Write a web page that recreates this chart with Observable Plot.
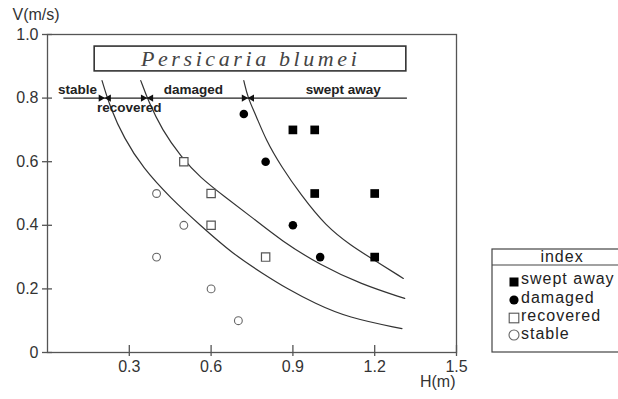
<!DOCTYPE html>
<html><head><meta charset="utf-8">
<script src="https://cdn.jsdelivr.net/npm/d3@7"></script>
<script src="https://cdn.jsdelivr.net/npm/@observablehq/plot@0.6"></script>
<style>
html,body{margin:0;padding:0;background:#fff;}
body{width:618px;height:399px;overflow:hidden;position:relative;font-family:"Liberation Sans",Arial,sans-serif;}
#chart{position:absolute;left:0;top:0;}
#legend{position:absolute;left:0;top:0;pointer-events:none;}
</style></head><body>
<div id="chart"></div>
<svg id="legend" width="618" height="399"></svg>
<script>
// ---- data ----
const sweptH = [0.9, 0.98, 0.98, 1.2, 1.2];
const sweptV = [0.7, 0.7, 0.5, 0.5, 0.3];
const damagedH = [0.72, 0.8, 0.9, 1.0];
const damagedV = [0.75, 0.6, 0.4, 0.3];
const recoveredH = [0.5, 0.6, 0.6, 0.8];
const recoveredV = [0.6, 0.5, 0.4, 0.3];
const stableH = [0.4, 0.5, 0.4, 0.6, 0.7];
const stableV = [0.5, 0.4, 0.3, 0.2, 0.1];

// boundary curves
const curve1H = [0.20, 0.23, 0.28, 0.35, 0.45, 0.56, 0.68, 0.79, 0.88, 0.98, 1.10, 1.30];
const curve1V = [0.855, 0.77, 0.675, 0.58, 0.487, 0.40, 0.31, 0.248, 0.20, 0.155, 0.11, 0.075];
const curve2H = [0.342, 0.37, 0.42, 0.49, 0.56, 0.65, 0.75, 0.86, 1.0, 1.15, 1.31];
const curve2V = [0.855, 0.79, 0.70, 0.615, 0.55, 0.49, 0.425, 0.35, 0.275, 0.215, 0.17];
const curve3H = [0.72, 0.735, 0.765, 0.80, 0.857, 0.93, 1.02, 1.115, 1.19, 1.305];
const curve3V = [0.855, 0.80, 0.745, 0.67, 0.585, 0.495, 0.398, 0.335, 0.295, 0.233];

const xTicks = [0.3, 0.6, 0.9, 1.2, 1.5];
const yTicks = [0, 0.2, 0.4, 0.6, 0.8, 1.0];

const categories = ["swept away", "damaged", "recovered", "stable"];
const legendTitle = "index";
const titleText = "Persicaria blumei";

// annotation band (data units)
const bandLabels = ["stable", "recovered", "damaged", "swept away"];
const bandLabelH = [0.11, 0.30, 0.535, 1.085];
const bandLabelV = [0.828, 0.77, 0.828, 0.828];
const boundaryH = [0.21, 0.365, 0.735];
const arrowV = 0.8;
const arrowSpan = [0.06, 1.32];
const titleBox = {x1: 0.173, x2: 1.316, y1: 0.884, y2: 0.962, xc: 0.745, yc: 0.923};

const pts = (H, V) => H.map((h, i) => ({H: h, V: V[i]}));

const ink = "#333";
const axisInk = "#555";

const chart = Plot.plot({
  width: 618, height: 399,
  marginLeft: 47, marginRight: 162, marginTop: 34, marginBottom: 47,
  x: {domain: [0, 1.5]},
  y: {domain: [0, 1]},
  style: {background: "white", color: ink, fontSize: "16px", fontFamily: "'Liberation Sans', Arial, sans-serif"},
  marks: [
    Plot.frame({stroke: axisInk, strokeWidth: 1.3}),
    Plot.axisX({ticks: xTicks, tickSize: 0, tickPadding: 8, label: null, fontSize: 16, tickFormat: d => String(d)}),
    Plot.axisY({ticks: yTicks, tickSize: 0, tickPadding: 9, label: null, fontSize: 16, tickFormat: d => d === 0 ? "0" : d.toFixed(1)}),
    Plot.ruleX(xTicks, {x: d => d, y1: 0, y2: 0, insetTop: -7, insetBottom: -4, stroke: axisInk, strokeWidth: 1.3}),
    Plot.ruleY(yTicks, {y: d => d, x1: 0, x2: 0, insetLeft: -5, insetRight: -5, stroke: axisInk, strokeWidth: 1.3}),
    Plot.text(["V(m/s)"], {frameAnchor: "top-left", textAnchor: "start", lineAnchor: "top", dx: -35, dy: -26, fontSize: 16, fill: ink}),
    Plot.text(["H(m)"], {frameAnchor: "bottom-right", dx: -1, dy: 34, fontSize: 16, fill: ink}),
    // curves
    Plot.line(pts(curve1H, curve1V), {x: "H", y: "V", curve: "basis", stroke: "#333", strokeWidth: 1.2}),
    Plot.line(pts(curve2H, curve2V), {x: "H", y: "V", curve: "basis", stroke: "#333", strokeWidth: 1.2}),
    Plot.line(pts(curve3H, curve3V), {x: "H", y: "V", curve: "basis", stroke: "#333", strokeWidth: 1.2}),
    // title box
    Plot.rect([titleBox], {x1: "x1", x2: "x2", y1: "y1", y2: "y2", fill: "white", stroke: "#333", strokeWidth: 1.6}),
    Plot.text([titleText], {x: titleBox.xc, y: titleBox.yc, fontFamily: "'Liberation Serif', serif", fontStyle: "italic", fontSize: 22, fill: "#444"}),
    // arrow band
    Plot.ruleY([arrowV], {y: d => d, x1: arrowSpan[0], x2: arrowSpan[1], stroke: "#222", strokeWidth: 1.2}),
    Plot.dot(boundaryH, {x: d => d, y: arrowV, symbol: "triangle", r: 2.7, rotate: 90, dx: -4, fill: "#111", stroke: "none"}),
    Plot.dot(boundaryH, {x: d => d, y: arrowV, symbol: "triangle", r: 2.7, rotate: -90, dx: 4, fill: "#111", stroke: "none"}),
    Plot.text(bandLabels, {x: (d, i) => bandLabelH[i], y: (d, i) => bandLabelV[i], fontWeight: "bold", fontSize: 13.5, fill: "#222"}),
    // data points
    Plot.dot(pts(stableH, stableV), {x: "H", y: "V", symbol: "circle", r: 3.9, stroke: "#666", strokeWidth: 1.1, fill: "white"}),
    Plot.dot(pts(recoveredH, recoveredV), {x: "H", y: "V", symbol: "square", r: 4.7, stroke: "#555", strokeWidth: 1.2, fill: "white"}),
    Plot.dot(pts(damagedH, damagedV), {x: "H", y: "V", symbol: "circle", r: 4.3, fill: "#000", stroke: "none"}),
    Plot.dot(pts(sweptH, sweptV), {x: "H", y: "V", symbol: "square", r: 4.9, fill: "#000", stroke: "none"})
  ]
});
document.getElementById("chart").appendChild(chart);

// letter spacing for the species title
d3.select(chart).selectAll("text").filter(function() { return this.textContent === titleText; })
  .style("letter-spacing", "3.6px");

// ---- legend (box partly cut off at the right edge like the reference) ----
const lg = d3.select("#legend");
const L = {x: 492, top: 249, bottom: 352, sep: 265, symX: 514, textX: 521, rows: [282, 300, 318, 335], base: [284, 303, 321, 339]};
lg.append("rect").attr("x", L.x).attr("y", L.top).attr("width", 200).attr("height", L.bottom - L.top)
  .attr("fill", "white").attr("stroke", "#444").attr("stroke-width", 1.2);
lg.append("line").attr("x1", L.x).attr("x2", 618).attr("y1", L.sep).attr("y2", L.sep).attr("stroke", "#444").attr("stroke-width", 1.2);
lg.append("text").attr("x", 562).attr("y", 262).attr("text-anchor", "middle")
  .attr("font-family", "'Liberation Sans', Arial, sans-serif").attr("font-size", 16).attr("letter-spacing", "1px").attr("fill", "#222").text(legendTitle);
const sym = [
  g => g.append("rect").attr("x", L.symX - 4.5).attr("y", -4.5).attr("width", 9).attr("height", 9).attr("fill", "#000"),
  g => g.append("circle").attr("cx", L.symX).attr("cy", 0).attr("r", 4.6).attr("fill", "#000"),
  g => g.append("rect").attr("x", L.symX - 4.8).attr("y", -4.8).attr("width", 9.6).attr("height", 9.6).attr("fill", "white").attr("stroke", "#555").attr("stroke-width", 1.1),
  g => g.append("circle").attr("cx", L.symX).attr("cy", 0).attr("r", 5).attr("fill", "white").attr("stroke", "#666").attr("stroke-width", 1.1)
];
categories.forEach((c, i) => {
  const g = lg.append("g").attr("transform", `translate(0,${L.rows[i]})`);
  sym[i](g);
  lg.append("text").attr("x", L.textX).attr("y", L.base[i])
    .attr("font-family", "'Liberation Sans', Arial, sans-serif").attr("font-size", 16).attr("letter-spacing", "1px").attr("fill", "#222").text(c);
});
</script>
</body></html>
